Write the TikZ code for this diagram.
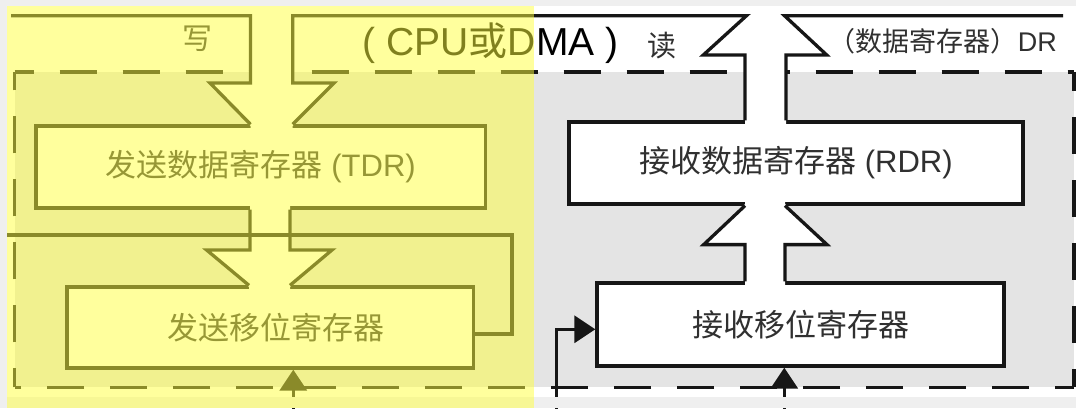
\documentclass[tikz,border=0pt]{standalone}
\usepackage{fontspec}
\setmainfont{Liberation Sans}
\newfontfamily\cjk{Noto Sans CJK SC}
\usetikzlibrary{arrows.meta,calc}

\definecolor{panelgray}{RGB}{228,228,228}
\definecolor{margingray}{RGB}{239,239,239}
\definecolor{ink}{RGB}{22,22,22}
\definecolor{textgray}{RGB}{48,48,48}
\definecolor{hilite}{RGB}{255,255,60}

\begin{document}
\begin{tikzpicture}[x=1pt,y=-1pt,
  reg/.style={draw=ink, fill=white, line width=3.3pt, inner sep=0pt,
              text=textgray, font=\fontsize{31}{36}\selectfont},
  busline/.style={draw=ink, line width=3.3pt, line join=miter},
  wire/.style={draw=ink, line width=3.2pt},
  frameside/.style={draw=ink, line width=3.2pt, dash pattern=on 37pt off 26pt, dash phase=18pt},
  feed/.style={wire, -{Triangle[length=21pt,width=27pt]}},
  lbl/.style={inner sep=0pt}
]
\useasboundingbox (0,0) rectangle (1076,408);
\fill[white] (0,0) rectangle (1076,408);

% interface unit: grey panel with dashed outline
\fill[panelgray] (14.5,72) rectangle (1074,387.3);
\draw[frameside] (14.5,72) -- (1074,72);
\draw[frameside] (1074,72) -- (1074,387.3);
\draw[frameside] (1074,387.3) -- (14.5,387.3);
\draw[frameside] (14.5,387.3) -- (14.5,72);

% registers
\node[reg, minimum width=449.5pt, minimum height=82pt] (tdr) at (260.75,167)
  {{\cjk 发送数据寄存器} (TDR)};
\node[reg, minimum width=454pt, minimum height=82pt] (rdr) at (796,163)
  {{\cjk 接收数据寄存器} (RDR)};
\node[reg, minimum width=406.5pt, minimum height=81pt] (tsr) at (270.25,327.5)
  {\hspace*{12pt}\cjk 发送移位寄存器};
\node[reg, minimum width=407pt, minimum height=83pt] (rsr) at (800.5,324.5)
  {\cjk 接收移位寄存器};

% bus openings (white bodies of the wide arrows)
\fill[white] (250.5,15.7) -- (250.5,83) -- (210,83) -- (250.5,126) -- (250.5,129.5)
  -- (292.7,129.5) -- (292.7,126) -- (334,83) -- (292.7,83) -- (292.7,15.7) -- cycle;
\fill[white] (745,125.5) -- (745,122) -- (745,55) -- (703.3,55) -- (746.5,15.7)
  -- (784.5,15.7) -- (826.7,55) -- (786,55) -- (786,122) -- (786,125.5) -- cycle;
\fill[white] (250,204.5) -- (250,250) -- (206.6,250) -- (249,287) -- (249,290.5)
  -- (290,290.5) -- (290,287) -- (332,250) -- (290,250) -- (290,204.5) -- cycle;
\fill[white] (745,286.5) -- (745,244.6) -- (703.7,244.6) -- (745,204) -- (745,200.5)
  -- (785,200.5) -- (785,204) -- (827,244.6) -- (785,244.6) -- (785,286.5) -- cycle;

% data bus edges and the wide arrows into / out of the data registers
\coordinate (busW) at (11,15.7);
\coordinate (busE) at (1063,15.7);
\draw[busline] (busW) -- (250.5,15.7) -- (250.5,83) -- (210,83) -- (tdr.north -| 250.5,0);
\draw[busline] (tdr.north -| 292.7,0) -- (334,83) -- (292.7,83) -- (292.7,15.7)
  -- (746.5,15.7) -- (703.3,55) -- (745,55) -- (rdr.north -| 745,0);
\draw[busline] (rdr.north -| 786,0) -- (786,55) -- (826.7,55) -- (784.5,15.7) -- (busE);

% TDR -> transmit shift register
\draw[busline] (tdr.south -| 250,0) -- (250,250) -- (206.6,250) -- (tsr.north -| 249,0);
\draw[busline] (tdr.south -| 290,0) -- (290,250) -- (332,250) -- (tsr.north -| 290,0);
% receive shift register -> RDR
\draw[busline] (rsr.north -| 745,0) -- (745,244.6) -- (703.7,244.6) -- (rdr.south -| 745,0);
\draw[busline] (rsr.north -| 785,0) -- (785,244.6) -- (827,244.6) -- (rdr.south -| 785,0);

% loop from the transmit shift register
\coordinate (loopW) at (5,235);
\draw[wire, line join=miter] (tsr.east |- 0,334) -- (512,334) -- (512,235) -- (loopW);

% serial inputs
\coordinate (rxA) at (556.7,410);
\coordinate (rxB) at (784.3,410);
\coordinate (txA) at (293.3,410);
\draw[feed] (rxA) -- (556.7,329.3) -- (rsr.west |- 0,329.3);
\draw[feed] (rxB) -- (rsr.south -| 784.3,0);
\draw[feed] (txA) -- (tsr.south -| 293.3,0);

% labels
\node[lbl, text=textgray, font=\fontsize{30}{34}\selectfont\cjk] (wr) at (197,39) {写};
\node[lbl, text=black, font=\fontsize{39}{43}\selectfont] (cpu) at (490.5,43)
  {( CPU{\cjk 或}DMA )};
\node[lbl, text=textgray, font=\fontsize{29}{34}\selectfont\cjk] (rd) at (662,46) {读};
\node[lbl, text=textgray, font=\fontsize{27}{32}\selectfont, anchor=east] (dr) at (1057,41)
  {{\cjk （数据寄存器）}DR};

% page margins
\fill[margingray] (0,0) rectangle (1076,6);
\fill[margingray] (0,0) rectangle (7,408);
\fill[margingray] (0,397) rectangle (1076,408);

% highlight over the transmit half
\fill[hilite, opacity=0.5] (7,6) rectangle (534,408);
\end{tikzpicture}
\end{document}
